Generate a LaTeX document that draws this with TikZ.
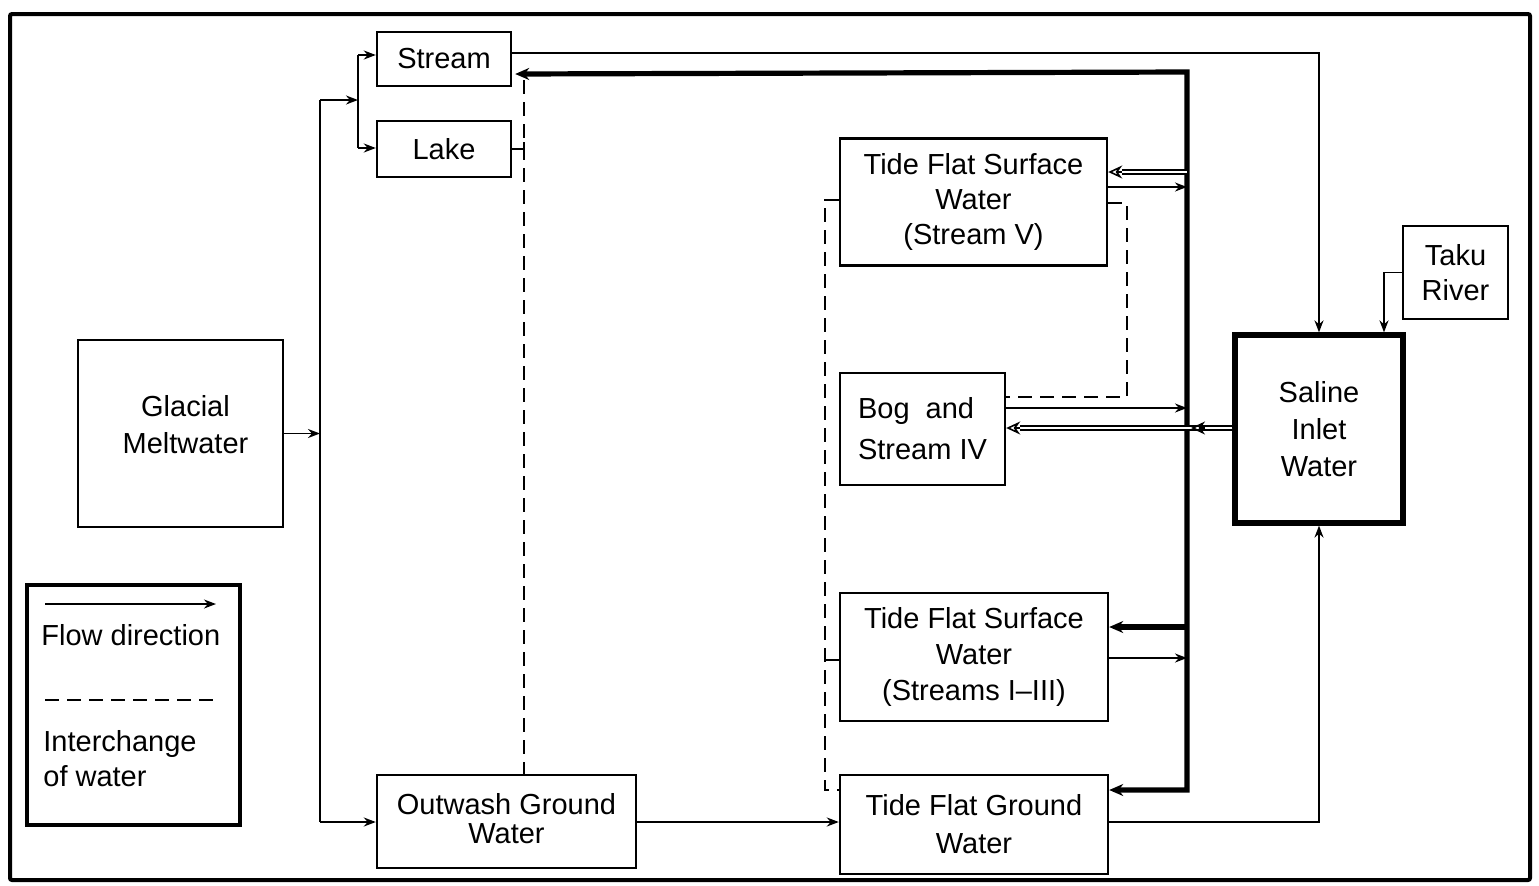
\documentclass[tikz,border=0pt]{standalone}
\usepackage{fontspec}
\setmainfont{Liberation Sans}
\usetikzlibrary{arrows.meta,calc}
\begin{document}
\begin{tikzpicture}[x=0.5pt,y=-0.5pt,
  box/.style={draw,line width=1.2pt,rectangle,align=center,inner sep=0pt,font=\fontsize{14.5}{17.5}\selectfont},
  conn/.style={line width=0.9pt},
  flow/.style={line width=0.9pt,-{Stealth[length=6pt,width=4.5pt]}},
  heavy/.style={line width=2.6pt,line join=miter},
  ichg/.style={line width=0.9pt,dash pattern=on 7pt off 4pt},
  hollowline/.style={line width=0.7pt,double=white,double distance=1.4pt},
  hollowtip/.style={line width=0.8pt,-{Stealth[open,length=7pt,width=6.5pt]}},
  lbl/.style={inner sep=0pt,font=\fontsize{14.5}{17.5}\selectfont}
]
\path[use as bounding box] (0,0) rectangle (1539,885);
\draw[line width=2pt,rounded corners=1pt] (10,14) rectangle (1530,880);

% boxes
\node[box,minimum width=67pt,minimum height=27pt] (stream) at (444,59) {Stream};
\node[box,minimum width=67pt,minimum height=28pt] (lake) at (444,149) {Lake};
\node[box,minimum width=102.5pt,minimum height=93.5pt] (glacial) at (180.5,433.5) {};
\node[lbl,align=center,font=\fontsize{14.5}{18.5}\selectfont] (glacialtxt) at ($(glacial.center)+(5,-9)$) {Glacial\\Meltwater};
\node[box,minimum width=129.5pt,minimum height=46.5pt] (outwash) at (506.5,821.5) {};
\node[lbl,align=center,font=\fontsize{14.5}{14.5}\selectfont] (outwashtxt) at ($(outwash.center)+(0,-3)$) {Outwash Ground\\Water};
\node[box,minimum width=133.5pt,minimum height=63.5pt] (tfsw5) at (973.5,202) {Tide Flat Surface\\Water\\(Stream V)};
\node[box,minimum width=82.5pt,minimum height=56pt,align=left,font=\fontsize{14.5}{20.5}\selectfont] (bog) at (922.5,429) {Bog\ \ and\\Stream IV};
\node[box,minimum width=134pt,minimum height=64pt,font=\fontsize{14.5}{18}\selectfont] (tfsw3) at (974,657) {Tide Flat Surface\\Water\\(Streams I--III)};
\node[box,minimum width=134pt,minimum height=49.5pt,font=\fontsize{14.5}{19}\selectfont] (tfgw) at (974,824.5) {Tide Flat Ground\\Water};
\node[box,line width=2.6pt,minimum width=84pt,minimum height=94pt,font=\fontsize{14.5}{18.5}\selectfont] (saline) at (1319,429) {Saline\\Inlet\\Water};
\node[box,minimum width=52.5pt,minimum height=46.5pt] (taku) at (1455.5,272.5) {Taku\\River};

% legend
\node[draw,line width=2pt,minimum width=106.5pt,minimum height=120pt] (legend) at (133.5,705) {};
\coordinate (la1) at (45,604);
\coordinate (la2) at (216,604);
\draw[flow] (la1) -- (la2);
\node[lbl,anchor=west] (lt1) at (41,635) {Flow direction};
\coordinate (ld1) at (45,700);
\coordinate (ld2) at (216,700);
\draw[ichg] (ld1) -- (ld2);
\node[lbl,anchor=west,align=left] (lt2) at (43,759) {Interchange\\of water};

% glacial meltwater distribution
\coordinate (v1) at (320,100);
\coordinate (v1b) at (320,822);
\draw[flow] (glacial.east) -- (glacial.east -| v1);
\draw[conn] (v1) -- (v1b);
\coordinate (v2a) at (358,55);
\coordinate (v2b) at (358,148);
\draw[flow] (v1) -- (v1 -| v2a);
\draw[conn] (v2a) -- (v2b);
\draw[flow] (v2a) -- (v2a -| stream.west);
\draw[flow] (v2b) -- (v2b -| lake.west);
\draw[flow] (v1b) -- (v1b -| outwash.west);

% stream to saline, taku to saline
\draw[flow] (stream.east |- 0,53) -| (saline.north);
\draw[flow] (taku.west) -| (saline.north -| 1384,0);

% heavy trunk
\coordinate (h1) at (1187,72);
\coordinate (h2) at (1187,790);
\draw[heavy,{Stealth[length=7pt,width=6pt]}-{Stealth[length=7pt,width=6pt]}]
  (h2 -| tfgw.east) -- (h2) -- (h1) -- ($(stream.east)+(3,15)$);
\draw[heavy,-{Stealth[length=7pt,width=6pt]}] (h1 |- 0,627) -- (tfsw3.east |- 0,627);
\draw[flow] (tfsw3.east |- 0,658) -- (h1 |- 0,658);

% tide flat surface water (stream V)
\draw[hollowline] (h1 |- 0,172) -- ($(tfsw5.east |- 0,172)+(14,0)$);
\draw[hollowtip] ($(tfsw5.east |- 0,172)+(14,0)$) -- (tfsw5.east |- 0,172);
\draw[flow] (tfsw5.east |- 0,187) -- (h1 |- 0,187);

% bog
\draw[flow] (bog.east |- 0,408) -- (h1 |- 0,408);
\draw[hollowline] (saline.west |- 0,428) -- ($(bog.east |- 0,428)+(14,0)$);
\draw[hollowtip] ($(bog.east |- 0,428)+(14,0)$) -- (bog.east |- 0,428);
\draw[hollowtip] ($(h1 |- 0,428)+(18,0)$) -- ($(h1 |- 0,428)+(4,0)$);

% ground water flows
\draw[flow] (tfgw.east |- 0,822) -| (saline.south);
\draw[flow] (outwash.east |- 0,822) -- (tfgw.west |- 0,822);

% interchange (dashed)
\coordinate (d1) at (524,80);
\draw[conn] (lake.east) -- (lake.east -| d1);
\draw[conn] ($(lake.east -| d1)+(0,-7)$) -- ($(lake.east -| d1)+(0,7)$);
\draw[ichg] (d1) -- (d1 |- outwash.north);
\coordinate (d2) at (1127,397);
\draw[ichg] (tfsw5.east |- 0,203) -| (d2) -- (bog.east |- d2);
\coordinate (d3) at (825,200);
\draw[ichg] (tfsw5.west |- d3) -- (d3) -- (d3 |- 0,790) -- (tfgw.west |- 0,790);
\draw[conn] (d3 |- 0,660) -- (tfsw3.west |- 0,660);
\end{tikzpicture}
\end{document}
